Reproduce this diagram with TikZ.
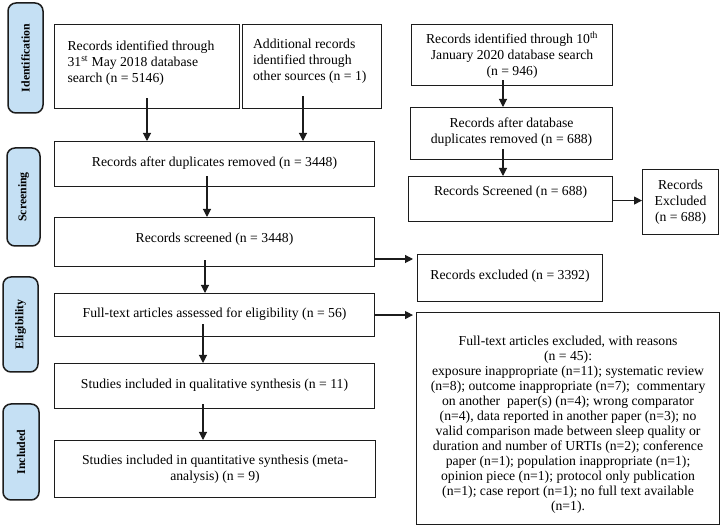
\documentclass[tikz,border=0pt]{standalone}
\usepackage{fontspec}
\setmainfont{Liberation Serif}
\usetikzlibrary{arrows.meta,calc}
\definecolor{tabblue}{RGB}{197,224,244}
\definecolor{linec}{RGB}{28,28,28}
\begin{document}
\begin{tikzpicture}[x=1pt,y=-1pt,
  box/.style={draw=linec, line width=1.1pt, anchor=north west, inner sep=0pt, align=center,
    font=\fontsize{13.7}{16}\selectfont},
  tab/.style={draw=linec, fill=tabblue, line width=1.5pt, rounded corners=8pt, inner sep=0pt,
    rotate=90, font=\bfseries\fontsize{11.8}{13}\selectfont},
  arr/.style={draw=linec, line width=1.1pt, -{Triangle[length=8pt,width=8pt]}}]
\useasboundingbox (0,0) rectangle (724,526);
% phase tabs
\node[tab, minimum width=110pt, minimum height=35pt] (t1) at (25.5,58) {Identification};
\node[tab, minimum width=98pt, minimum height=33pt] (t2) at (23.5,197) {Screening};
\node[tab, minimum width=95pt, minimum height=35pt] (t3) at (20.5,324.5) {Eligibility};
\node[tab, minimum width=96pt, minimum height=36pt] (t4) at (21,452) {Included};
% boxes
\node[box, minimum width=185pt, minimum height=84pt] (b1) at (54,24)
  {\parbox[c][51pt][t]{159pt}{\raggedright Records identified through\\31\textsuperscript{st} May 2018 database\\search (n = 5146)}};
\node[box, minimum width=139pt, minimum height=84pt] (b2) at (242,24)
  {\parbox[c][55pt][t]{118pt}{\raggedright Additional records\\identified through\\other sources (n = 1)}};
\node[box, minimum width=201pt, minimum height=61pt] (b3) at (411,24)
  {Records identified through 10\textsuperscript{th}\\January 2020 database search\\(n = 946)};
\node[box, minimum width=202pt, minimum height=52pt] (b4) at (410,107)
  {\parbox[c][31pt][t]{190pt}{\centering Records after database\\duplicates removed (n = 688)}};
\node[box, minimum width=204pt, minimum height=45pt, text height=9.5pt, text depth=16.5pt] (b5) at (408,176)
  {Records Screened (n = 688)};
\node[box, minimum width=76pt, minimum height=65pt] (b6) at (642,169)
  {Records\\Excluded\\(n = 688)};
\node[box, minimum width=320pt, minimum height=45pt, text height=9.5pt, text depth=5pt] (b7) at (54,141)
  {Records after duplicates removed (n = 3448)};
\node[box, minimum width=320pt, minimum height=49pt, text height=9.5pt, text depth=8.5pt] (b8) at (54,217)
  {Records screened (n = 3448)};
\node[box, minimum width=185pt, minimum height=47pt, text height=9.5pt, text depth=6pt] (b9) at (417,254)
  {Records excluded (n = 3392)};
\node[box, minimum width=320pt, minimum height=43pt, text height=9.5pt, text depth=4pt] (b10) at (54,293)
  {Full-text articles assessed for eligibility (n = 56)};
\node[box, minimum width=303pt, minimum height=212pt] (b11) at (416,312)
  {\parbox[c][165pt][t]{295pt}{\fontsize{13.7}{15}\selectfont\centering Full-text articles excluded, with reasons\\(n = 45):\\
  exposure inappropriate (n=11); systematic review\\
  (n=8); outcome inappropriate (n=7);~ commentary\\
  on another~ paper(s) (n=4); wrong comparator\\
  (n=4), data reported in another paper (n=3); no\\
  valid comparison made between sleep quality or\\
  duration and number of URTIs (n=2); conference\\
  paper (n=1); population inappropriate (n=1);\\
  opinion piece (n=1); protocol only publication\\
  (n=1); case report (n=1); no full text available\\
  (n=1).}};
\node[box, minimum width=320pt, minimum height=45pt, text height=9.5pt, text depth=4pt] (b12) at (54,363)
  {Studies included in qualitative synthesis (n = 11)};
\node[box, minimum width=321pt, minimum height=57pt] (b13) at (54,440)
  {Studies included in quantitative synthesis (meta-\\analysis) (n = 9)};
% connectors
\coordinate (c1) at ($(b1.south west)+(93,0)$);
\draw[arr] ($(c1)+(0,-11)$) -- (c1 |- b7.north);
\coordinate (c2) at ($(b2.south west)+(61,0)$);
\draw[arr] ($(c2)+(0,-13)$) -- (c2 |- b7.north);
\coordinate (c3) at ($(b3.south west)+(92,0)$);
\draw[arr] ($(c3)+(0,-6)$) -- (c3 |- b4.north);
\coordinate (c4) at ($(b4.south west)+(93,0)$);
\draw[arr] ($(c4)+(0,-11)$) -- (c4 |- b5.north);
\coordinate (c5) at ($(b5.east)+(0,1.5)$);
\draw[arr] (c5) -- (c5 -| b6.west);
\coordinate (c7) at ($(b7.south west)+(153,0)$);
\draw[arr] ($(c7)+(0,-11)$) -- (c7 |- b8.north);
\coordinate (c8) at ($(b8.south west)+(151,0)$);
\draw[arr] ($(c8)+(0,-7)$) -- (c8 |- b10.north);
\coordinate (c9) at ($(b8.north east)+(0,42)$);
\draw[arr, shorten >=4pt] (c9) -- (c9 -| b9.west);
\draw[arr, shorten >=3pt] (b10.east) -- (b10.east -| b11.west);
\coordinate (c10) at ($(b10.south west)+(149,0)$);
\draw[arr] ($(c10)+(0,-13)$) -- (c10 |- b12.north);
\coordinate (c12) at ($(b12.south west)+(149,0)$);
\draw[arr] ($(c12)+(0,-5)$) -- (c12 |- b13.north);
\end{tikzpicture}
\end{document}
